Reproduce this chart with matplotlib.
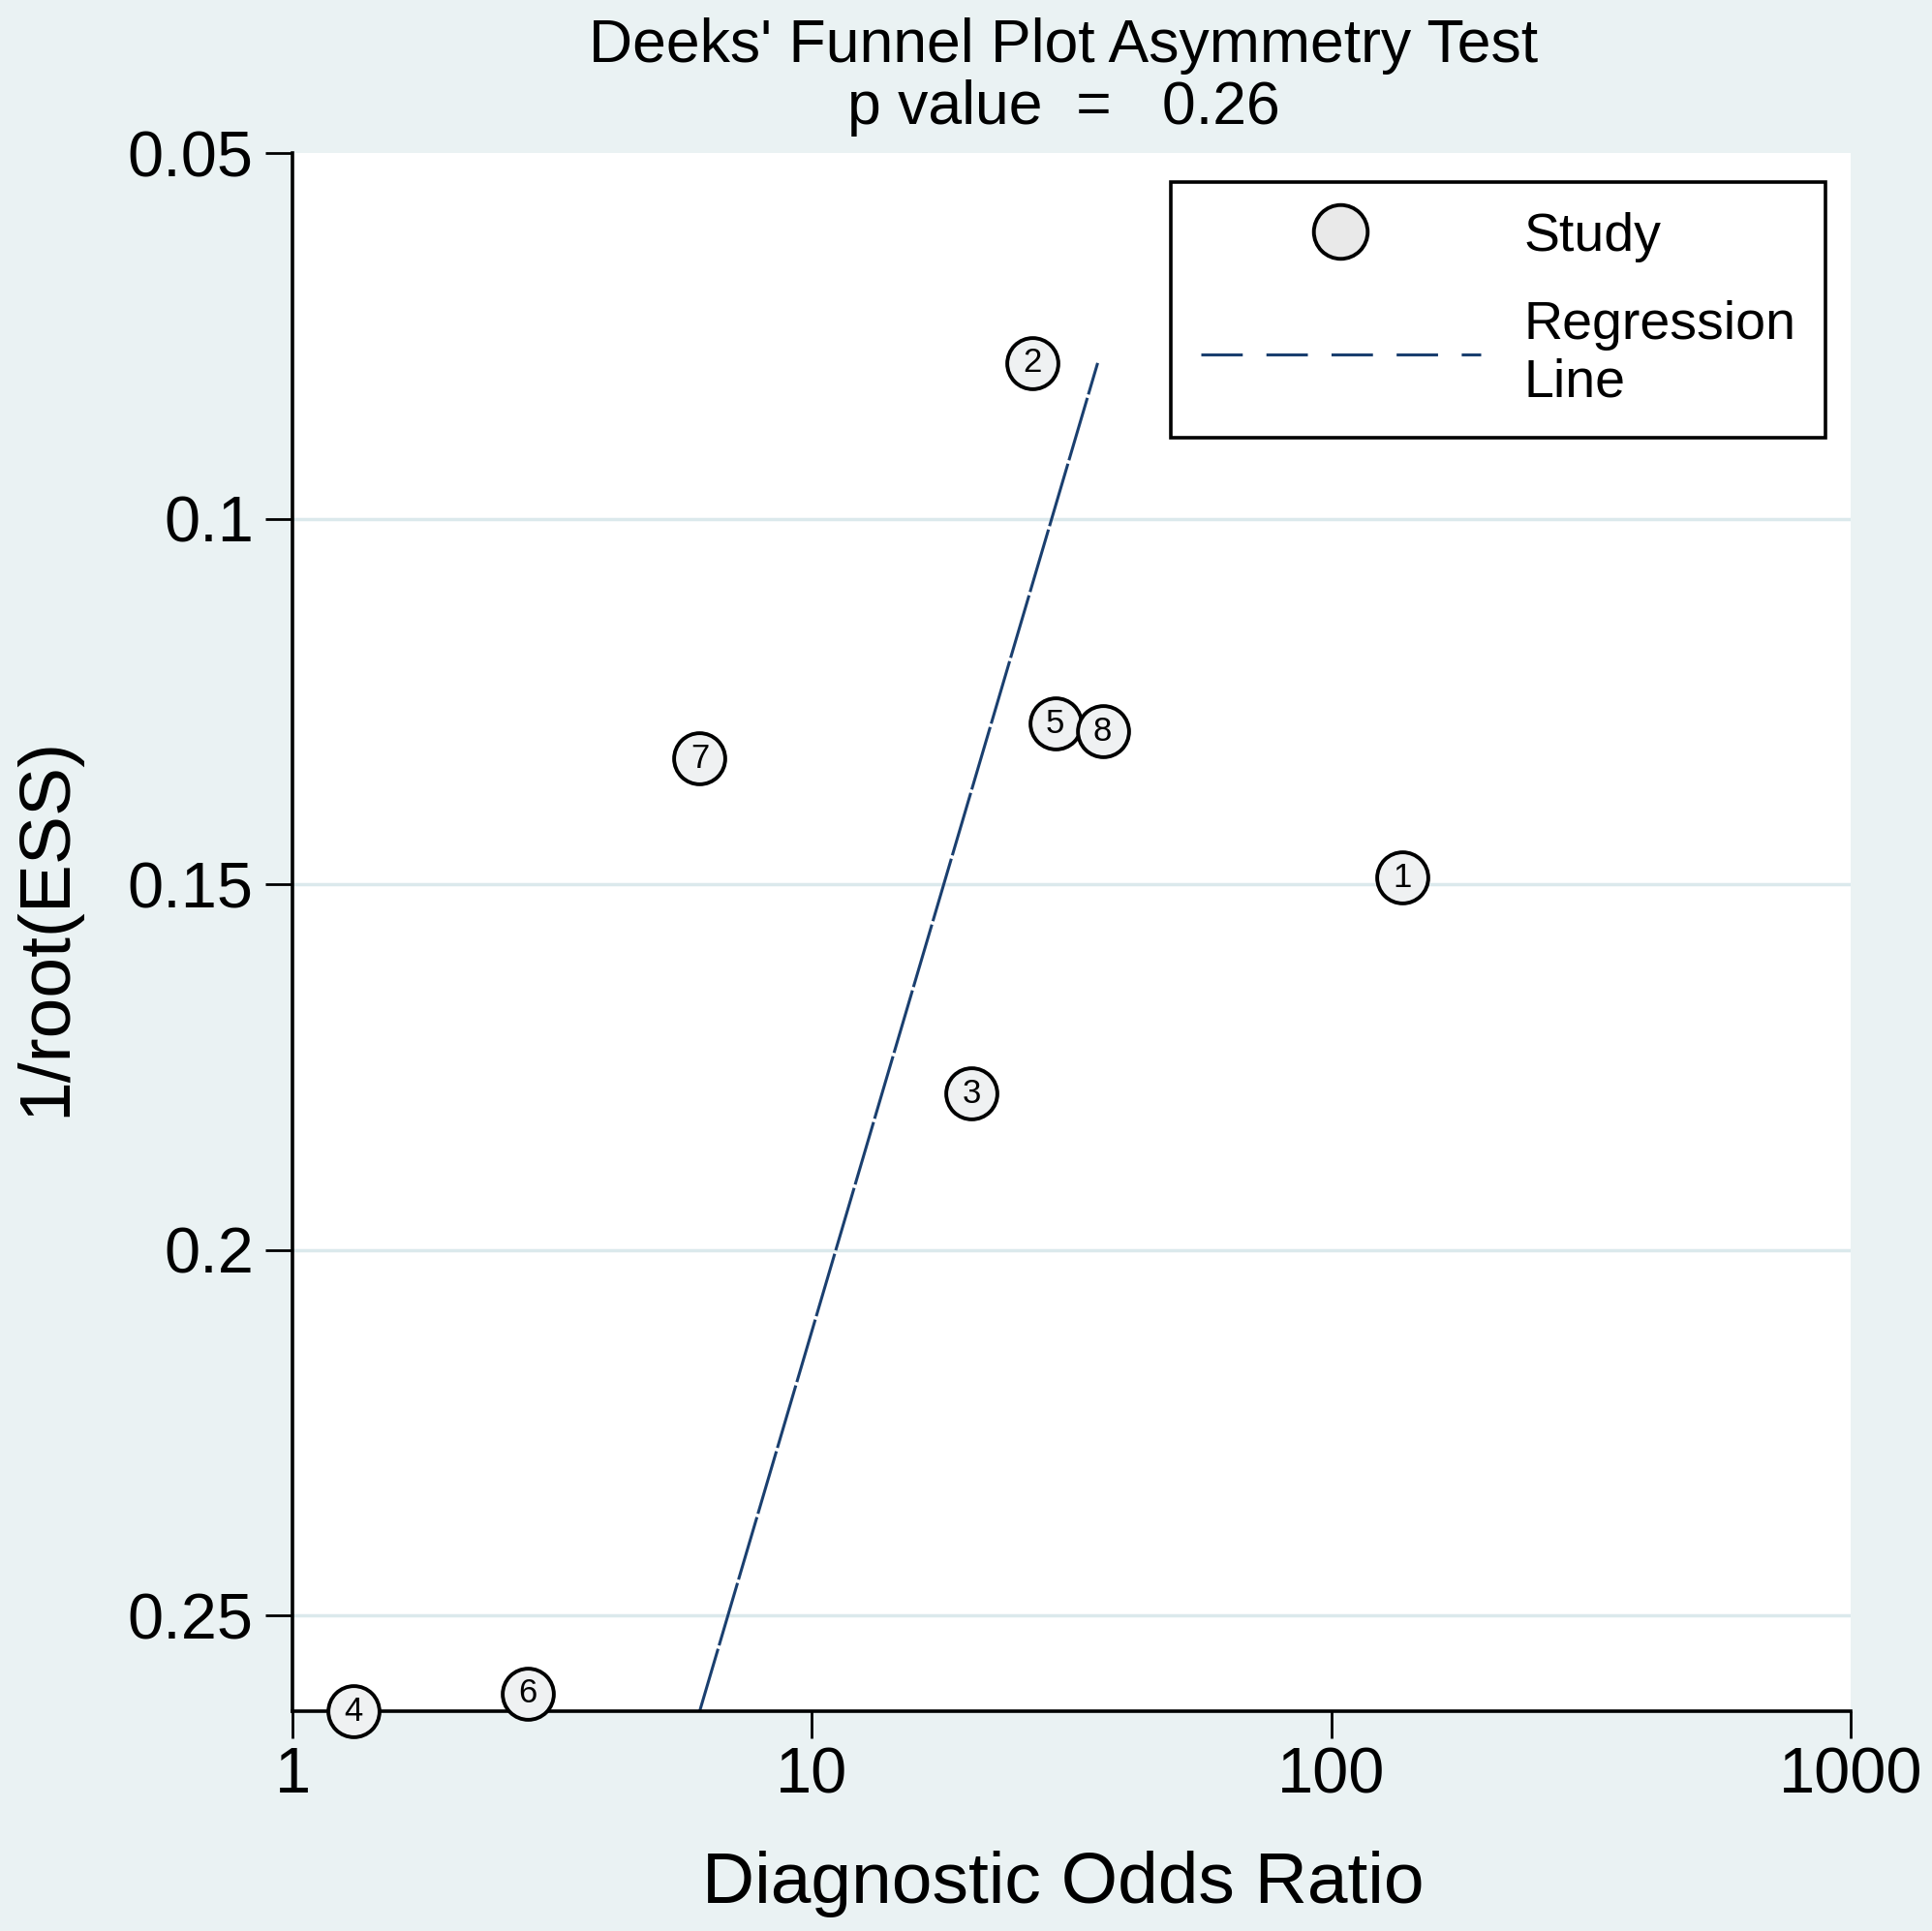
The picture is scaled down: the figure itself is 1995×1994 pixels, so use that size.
import matplotlib as mpl
import matplotlib.pyplot as plt
from matplotlib.lines import Line2D

mpl.rcParams.update({
    "font.family": ["Liberation Sans", "DejaVu Sans"],
})

# ----- data -----
study_id = ["1", "2", "3", "4", "5", "6", "7", "8"]
dor      = [137, 26.6, 20.3, 1.31, 29.4, 2.84, 6.08, 36.3]       # diagnostic odds ratio
inv_ess  = [0.1491, 0.0787, 0.1786, 0.2631, 0.1280, 0.2607, 0.1328, 0.1291]  # 1/root(ESS)

reg_dor = [6.08, 35.5]       # regression line ends
reg_ess = [0.2631, 0.0787]

xticks = [1, 10, 100, 1000]
xtick_labels = ["1", "10", "100", "1000"]
yticks = [0.05, 0.1, 0.15, 0.2, 0.25]
ytick_labels = ["0.05", "0.1", "0.15", "0.2", "0.25"]

BG   = "#eaf2f3"
GRID = "#dbe9ec"
NAVY = "#1a3f6f"

fig = plt.figure(figsize=(19.95, 19.94), dpi=100, facecolor=BG)
ax = fig.add_axes([0.1514, 0.1138, 0.8065, 0.8069])
ax.set_facecolor("white")

ax.set_xscale("log")
ax.set_xlim(1, 1000)
ax.set_ylim(0.2631, 0.05)

for y in yticks[1:]:
    ax.axhline(y, color=GRID, lw=2.5, zorder=0)

ax.plot(reg_dor, reg_ess, color=NAVY, lw=2.2, ls=(0, (22, 1.2)), zorder=2)

ax.plot(dor, inv_ess, ls="none", marker="o", ms=38, mfc="#eff1f2",
        mec="black", mew=2.8, zorder=3, clip_on=False)
for s, x, y in zip(study_id, dor, inv_ess):
    ax.text(x, y, s, ha="center", va="center", fontsize=25, zorder=4, clip_on=False)

ax.set_xticks(xticks)
ax.set_xticklabels(xtick_labels)
ax.xaxis.set_minor_locator(mpl.ticker.NullLocator())
ax.set_yticks(yticks)
ax.set_yticklabels(ytick_labels)
ax.tick_params(axis="both", labelsize=48, length=20, width=2.0, color="black")
ax.tick_params(axis="x", pad=6)
ax.tick_params(axis="y", pad=9)

for side in ["top", "right"]:
    ax.spines[side].set_visible(False)
for side in ["left", "bottom"]:
    ax.spines[side].set_linewidth(2.6)

# legend
h_study = Line2D([], [], ls="none", marker="o", ms=40, mfc="#e9e9e9", mec="black", mew=2.8)
h_reg = Line2D([], [], color=NAVY, lw=2.2, ls=(0, (14, 8)))
leg = ax.legend([h_study, h_reg], ["Study", "Regression\nLine"], loc="upper right",
                bbox_to_anchor=(1.001, 0.9986), fontsize=40, frameon=True, fancybox=False,
                edgecolor="black", handlelength=5.2, handletextpad=0.8, borderpad=0.55,
                labelspacing=0.7)
leg.get_frame().set_linewidth(2.6)
leg.get_frame().set_alpha(1)

# titles and axis labels
fig.text(0.5504, 0.968, "Deeks' Funnel Plot Asymmetry Test", ha="center", va="baseline", fontsize=45)
fig.text(0.5504, 0.9358, "p value  =   0.26", ha="center", va="baseline", fontsize=45)
fig.text(0.5504, 0.0145, "Diagnostic Odds Ratio", ha="center", va="baseline", fontsize=54)
fig.text(0.024, 0.520, "1/root(ESS)", ha="center", va="center", rotation=90, fontsize=54)

fig.savefig("out.png", dpi=100, facecolor=BG)
